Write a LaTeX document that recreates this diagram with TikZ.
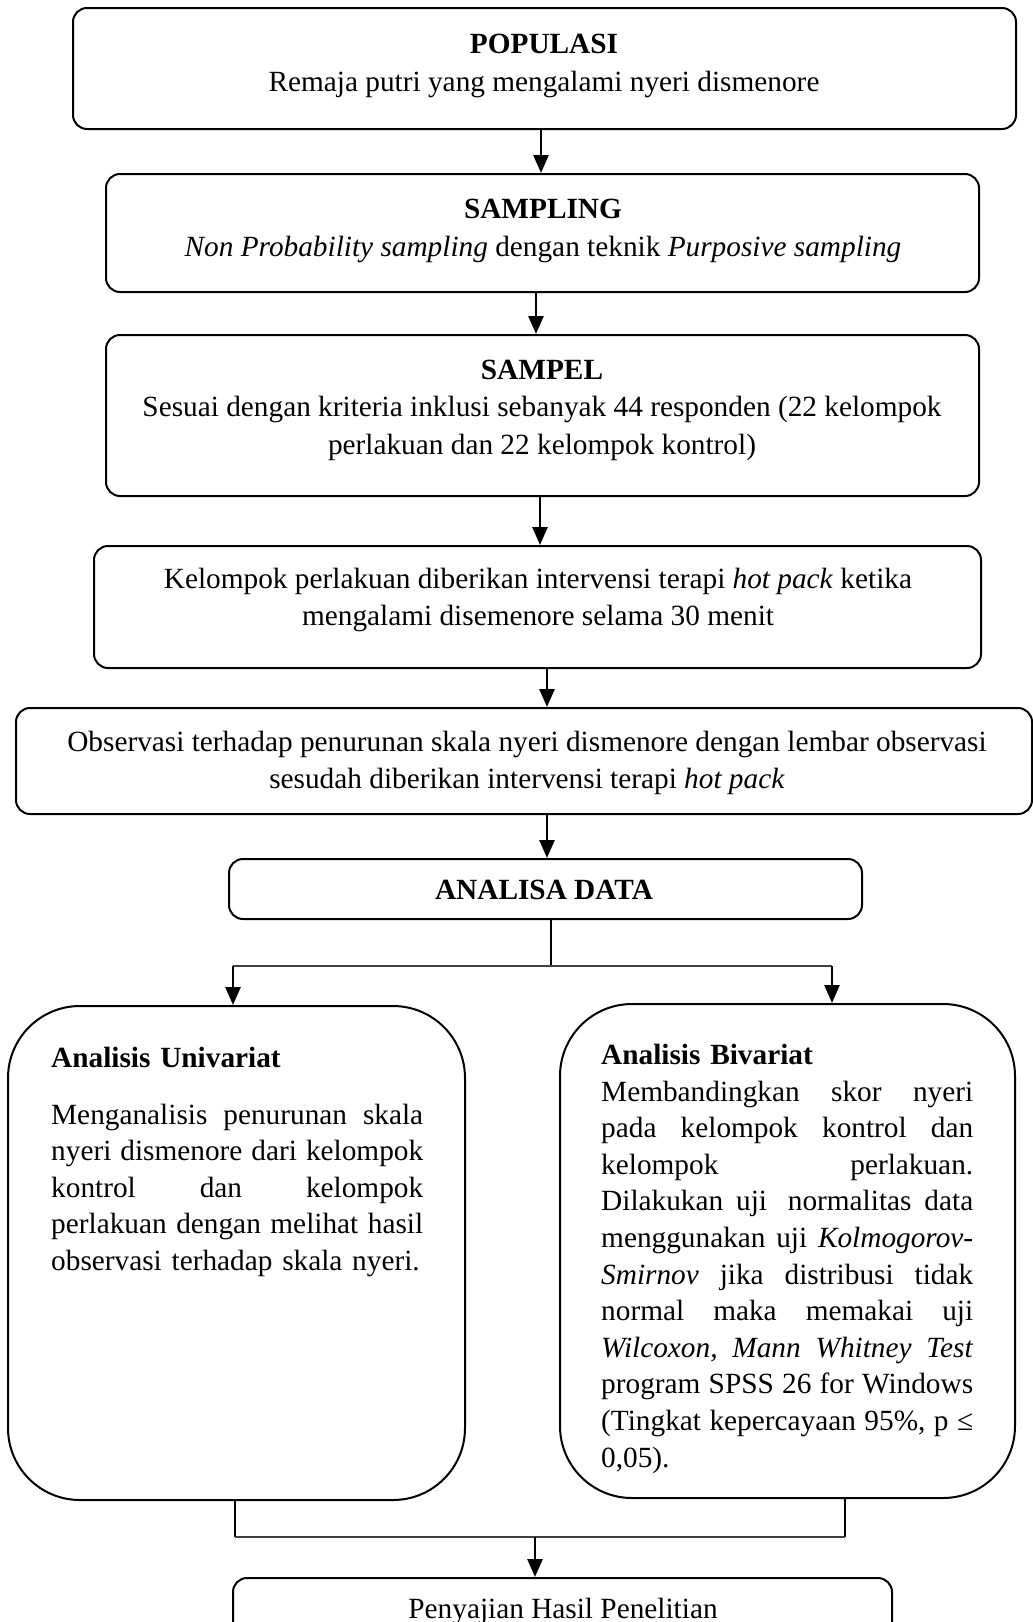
\documentclass[tikz,border=0pt]{standalone}
\usepackage{fontspec}
\setmainfont{Liberation Serif}
\usetikzlibrary{arrows.meta}
% one justified line of the analysis boxes (words split by \hfill)
\newcommand{\jline}[1]{\makebox[372pt][s]{#1}\\}
\begin{document}
\begin{tikzpicture}[x=1pt,y=-1pt,line join=round,
  font=\fontsize{29.3}{37.5}\selectfont,
  flowbox/.style={draw,line width=2,rounded corners=14,inner sep=0},
  bigbox/.style={draw,line width=2,rounded corners=72,inner sep=0},
  lbl/.style={align=center,inner sep=0},
  para/.style={align=left,text width=372pt,inner sep=0,anchor=north west,
    font=\fontsize{29.3}{36.6}\selectfont},
  arr/.style={line width=2.7,-{Triangle[width=15,length=18]}},
  conn/.style={line width=2.8},
  thinline/.style={line width=1.2,black!75}]
  \useasboundingbox (0,0) rectangle (1033,1622);
  \clip (0,0) rectangle (1033,1622);

  % boxes
  \node[flowbox,minimum width=943,minimum height=121] (pop) at (544.5,68.5) {};
  \node[flowbox,minimum width=873,minimum height=118] (samp) at (542.5,233) {};
  \node[flowbox,minimum width=873,minimum height=161] (sampel) at (542.5,415.5) {};
  \node[flowbox,minimum width=887,minimum height=122] (perl) at (537.5,607) {};
  \node[flowbox,minimum width=1016,minimum height=106] (obs) at (524,761) {};
  \node[flowbox,minimum width=633,minimum height=60] (ana) at (545.5,889) {};
  \node[bigbox,minimum width=457,minimum height=494] (uni) at (236.5,1253) {};
  \node[bigbox,minimum width=455,minimum height=494] (biv) at (787.5,1251) {};
  \node[flowbox,minimum width=659,minimum height=90] (hasil) at (562.5,1623) {};

  % texts
  \node[lbl] (t-pop) at (544,66) {\textbf{POPULASI}\\Remaja putri yang mengalami nyeri dismenore};
  \node[lbl] (t-samp) at (543,231) {\textbf{SAMPLING}\\\textit{Non Probability sampling} dengan teknik \textit{Purposive sampling}};
  \node[lbl] (t-sampel) at (542,410) {\textbf{SAMPEL}\\Sesuai dengan kriteria inklusi sebanyak 44 responden (22 kelompok\\perlakuan dan 22 kelompok kontrol)};
  \node[lbl] (t-perl) at (538,600) {Kelompok perlakuan diberikan intervensi terapi \textit{hot pack} ketika\\mengalami disemenore selama 30 menit};
  \node[lbl] (t-obs) at (527,763) {Observasi terhadap penurunan skala nyeri dismenore dengan lembar observasi\\sesudah diberikan intervensi terapi \textit{hot pack}};
  \node[lbl] (t-ana) at (544,890) {\textbf{ANALISA DATA}};
  \node[para] (t-uni) at (51,1047) {\textbf{Analisis Univariat}\\[20pt]
    \jline{Menganalisis\hfill penurunan\hfill skala}
    \jline{nyeri\hfill dismenore\hfill dari\hfill kelompok}
    \jline{kontrol\hfill dan\hfill kelompok}
    \jline{perlakuan\hfill dengan\hfill melihat\hfill hasil}
    observasi terhadap skala nyeri.};
  \node[para] (t-biv) at (601,1044) {\textbf{Analisis Bivariat}\\
    \jline{Membandingkan\hfill skor\hfill nyeri}
    \jline{pada\hfill kelompok\hfill kontrol\hfill dan}
    \jline{kelompok\hfill perlakuan.}
    \jline{Dilakukan\hfill uji\hfill\hskip 8pt normalitas\hfill data}
    \jline{menggunakan\hfill uji\hfill \textit{Kolmogorov-}}
    \jline{\textit{Smirnov}\hfill jika\hfill distribusi\hfill tidak}
    \jline{normal\hfill maka\hfill memakai\hfill uji}
    \jline{\textit{Wilcoxon,}\hfill\textit{Mann}\hfill\textit{Whitney}\hfill\textit{Test}}
    \jline{program\hfill SPSS\hfill 26\hfill for\hfill Windows}
    \jline{(Tingkat\hfill kepercayaan\hfill 95\%,\hfill p\hfill ≤}
    0,05).};
  \node[anchor=base,inner sep=0] (t-hasil) at (563,1618) {Penyajian Hasil Penelitian};

  % arrows down the chain
  \draw[arr] ([xshift=-3.5]pop.south) -- ([xshift=-3.5]pop.south |- samp.north);
  \draw[arr] ([xshift=-6.5]samp.south) -- ([xshift=-6.5]samp.south |- sampel.north);
  \draw[arr] ([xshift=-2.5]sampel.south) -- ([xshift=-2.5]sampel.south |- perl.north);
  \draw[arr] ([xshift=9.5]perl.south) -- ([xshift=9.5]perl.south |- obs.north);
  \draw[arr] ([xshift=23]obs.south) -- ([xshift=23]obs.south |- ana.north);

  % branch to the two analyses
  \coordinate (brL) at (233,966);
  \coordinate (brR) at (832,966);
  \draw[conn] ([xshift=5.5]ana.south) -- ([xshift=5.5]ana.south |- brL);
  \draw[thinline] (brL) -- (brR);
  \draw[arr] (brL) -- (brL |- uni.north);
  \draw[arr] (brR) -- (brR |- biv.north);

  % join to the result
  \coordinate (jnL) at (235,1537);
  \coordinate (jnR) at (845,1537);
  \coordinate (jnM) at (535,1537);
  \draw[conn] (jnL |- uni.south) -- (jnL);
  \draw[conn] (jnR |- biv.south) -- (jnR);
  \draw[thinline] (jnL) -- (jnR);
  \draw[arr] (jnM) -- (jnM |- hasil.north);
\end{tikzpicture}
\end{document}
